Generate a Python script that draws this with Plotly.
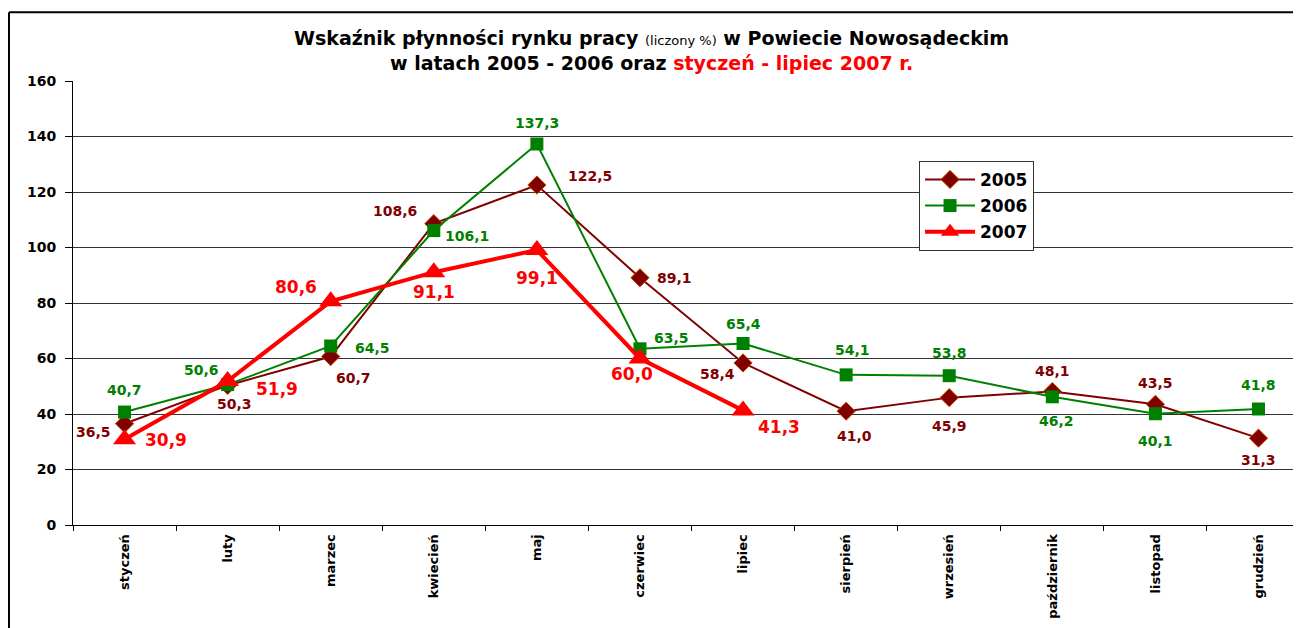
import plotly.graph_objects as go

months = ["styczeń", "luty", "marzec", "kwiecień", "maj", "czerwiec",
          "lipiec", "sierpień", "wrzesień", "październik", "listopad", "grudzień"]
y2005 = [36.5, 50.3, 60.7, 108.6, 122.5, 89.1, 58.4, 41.0, 45.9, 48.1, 43.5, 31.3]
y2006 = [40.7, 50.6, 64.5, 106.1, 137.3, 63.5, 65.4, 54.1, 53.8, 46.2, 40.1, 41.8]
y2007 = [30.9, 51.9, 80.6, 91.1, 99.1, 60.0, 41.3]
y_ticks = [0, 20, 40, 60, 80, 100, 120, 140, 160]

FONT = "DejaVu Sans, Arial, sans-serif"
C05, C06, C07 = "#800000", "#008000", "#FF0000"

# label offsets in pixels (xshift, yshift) for each point
off05 = [(-31, -8), (7, -19), (23, -21), (-39, 13), (53, 9), (35, 0),
         (-26, -11), (8, -25), (0, -28), (0, 21), (0, 21), (0, -22)]
off06 = [(0, 22), (-26, 15), (42, -2), (33, -5), (0, 21), (32, 11),
         (0, 20), (6, 25), (0, 23), (4, -24), (0, -27), (0, 24)]
off07 = [(41, -1), (49, -8), (-35, 14), (0, -20), (0, -28), (-8, -15), (36, -17)]


def fmt(v):
    return f"{v:.1f}".replace(".", ",")


fig = go.Figure()
fig.add_trace(go.Scatter(x=months, y=y2005, mode="lines+markers", name="2005",
                         legendgroup="a",
                         line=dict(color=C05, width=2),
                         marker=dict(symbol="diamond", size=14, color=C05,
                                     line=dict(color="#B84A00", width=1))))
fig.add_trace(go.Scatter(x=months, y=y2006, mode="lines+markers", name="2006",
                         legendgroup="b",
                         line=dict(color=C06, width=2),
                         marker=dict(symbol="square", size=13, color=C06)))
fig.add_trace(go.Scatter(x=months[:len(y2007)], y=y2007, mode="lines+markers", name="2007",
                         legendgroup="c",
                         line=dict(color=C07, width=4),
                         marker=dict(symbol="triangle-up", size=20, color=C07)))

annotations = []
for vals, offs, col, size in [(y2005, off05, C05, 14), (y2006, off06, C06, 14),
                              (y2007, off07, C07, 17)]:
    for m, v, (dx, dy) in zip(months, vals, offs):
        annotations.append(dict(x=m, y=v, text=f"<b>{fmt(v)}</b>", showarrow=False,
                                xshift=dx, yshift=dy,
                                font=dict(family=FONT, size=size, color=col)))

# two-line chart title
title_font = dict(family=FONT, size=19, color="black")
annotations.append(dict(
    xref="paper", yref="paper", x=0.4683, y=1.0968, xanchor="center", yanchor="middle",
    text="<b>Wskaźnik płynności rynku pracy </b>"
         "<span style='font-size:13px'>(liczony %)</span>"
         "<b> w Powiecie Nowosądeckim</b>",
    showarrow=False, font=title_font))
annotations.append(dict(
    xref="paper", yref="paper", x=0.4683, y=1.0405, xanchor="center", yanchor="middle",
    text="<b>w latach 2005 - 2006 oraz "
         "<span style='color:#FF0000'>styczeń - lipiec 2007 r.</span></b>",
    showarrow=False, font=title_font))

fig.update_layout(
    width=1301, height=628,
    margin=dict(l=65, r=0, t=73, b=111),
    paper_bgcolor="white", plot_bgcolor="white",
    font=dict(family=FONT, color="black"),
    showlegend=True,
    legend=dict(x=0.6845, y=0.82, xanchor="left", yanchor="top",
                bgcolor="white", bordercolor="#333333", borderwidth=1,
                font=dict(family=FONT, size=17, color="black", weight="bold"),
                itemwidth=50, tracegroupgap=1, traceorder="grouped"),
    annotations=annotations,
    shapes=[
        dict(type="line", xref="paper", yref="paper", x0=-0.0518, x1=-0.0518,
             y0=-0.5, y1=1.155, line=dict(color="black", width=2)),
        dict(type="line", xref="paper", yref="paper", x0=-0.0518, x1=1.2,
             y0=1.155, y1=1.155, line=dict(color="black", width=2)),
    ],
)

fig.update_xaxes(
    type="category", range=[-0.5, 11.49], automargin=False,
    tickangle=-90, tickson="boundaries", ticks="outside", ticklen=5,
    tickcolor="black", showline=True, linecolor="black", linewidth=1,
    showgrid=False, zeroline=False,
    tickfont=dict(family=FONT, size=13, color="black", weight="bold"),
    ticklabelstandoff=3,
)
fig.update_yaxes(
    range=[0, 160], tickvals=y_ticks, automargin=False,
    ticks="outside", ticklen=7, tickcolor="black",
    showline=True, linecolor="black", linewidth=1,
    showgrid=True, gridcolor="#333333", gridwidth=1, zeroline=False,
    tickfont=dict(family=FONT, size=14, color="black", weight="bold"),
    ticklabelstandoff=6,
)

fig.write_html("out.html")
